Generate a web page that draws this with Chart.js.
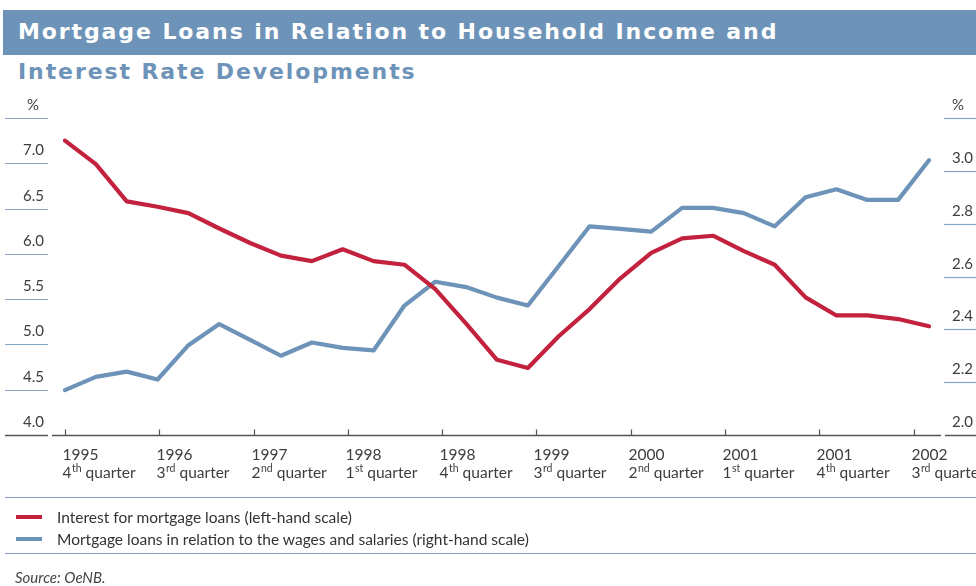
<!DOCTYPE html>
<html><head><meta charset="utf-8">
<script src="https://cdn.jsdelivr.net/npm/chart.js@4.4.1/dist/chart.umd.min.js"></script>
<style>
html,body{margin:0;padding:0;background:#fff;}
body{width:976px;height:586px;overflow:hidden;position:relative;font-family:Lato,'Open Sans',sans-serif;}
#band{position:absolute;left:3px;top:10px;width:973px;height:45px;background:#6d93b8;}
.t{position:absolute;left:18px;font-family:'DejaVu Sans',sans-serif;font-weight:bold;font-size:22px;line-height:22px;letter-spacing:1.9px;white-space:nowrap;}
#t1{top:21px;color:#fff;}
#t2{top:61px;color:#6d93b8;}
canvas{position:absolute;left:0;top:0;}
.rule{position:absolute;left:5px;width:971px;height:1px;background:#7f9fc2;}
.sw{position:absolute;left:16px;width:26px;height:4px;}
.lg{position:absolute;left:57px;font-size:15.5px;line-height:18px;color:#333;white-space:nowrap;}
#src{position:absolute;left:15px;top:569px;font-size:15px;line-height:16px;font-style:italic;color:#444;}
</style></head>
<body>
<div id="band"></div>
<div class="t" id="t1">Mortgage Loans in Relation to Household Income and</div>
<div class="t" id="t2">Interest Rate Developments</div>
<canvas id="c" width="976" height="586"></canvas>
<div class="rule" style="top:497px"></div>
<div class="sw" style="top:515px;background:#c3223f"></div>
<div class="lg" style="top:508px">Interest for mortgage loans (left-hand scale)</div>
<div class="sw" style="top:537px;background:#6d93b8"></div>
<div class="lg" style="top:530px">Mortgage loans in relation to the wages and salaries (right-hand scale)</div>
<div class="rule" style="top:553px"></div>
<div id="src">Source: OeNB.</div>
<script>
// Categories (quarters)
const categories = [
 "1995 Q4","1996 Q1","1996 Q2","1996 Q3","1996 Q4","1997 Q1","1997 Q2","1997 Q3","1997 Q4",
 "1998 Q1","1998 Q2","1998 Q3","1998 Q4","1999 Q1","1999 Q2","1999 Q3","1999 Q4",
 "2000 Q1","2000 Q2","2000 Q3","2000 Q4","2001 Q1","2001 Q2","2001 Q3","2001 Q4",
 "2002 Q1","2002 Q2","2002 Q3","2002 Q4"];
// Interest for mortgage loans, % (left-hand scale)
const interestRate = [7.25,6.99,6.58,6.52,6.45,6.28,6.12,5.98,5.92,6.05,5.92,5.88,5.61,5.23,4.83,
 4.74,5.09,5.39,5.73,6.01,6.17,6.20,6.03,5.88,5.52,5.32,5.32,5.28,5.20];
// Mortgage loans in relation to wages and salaries, % (right-hand scale)
const loansToWages = [2.17,2.22,2.24,2.21,2.34,2.42,2.36,2.30,2.35,2.33,2.32,2.49,2.58,2.56,2.52,
 2.49,2.64,2.79,2.78,2.77,2.86,2.86,2.84,2.79,2.90,2.93,2.89,2.89,3.04];
// Axis tick labels
const leftTicks = [4.0,4.5,5.0,5.5,6.0,6.5,7.0];
const rightTicks = [2.0,2.2,2.4,2.6,2.8,3.0];
const leftMax = 7.5, rightMax = 3.2;
const tickYears = ["1995","1996","1997","1998","1998","1999","2000","2001","2001","2002"];
const tickQuarterNum = ["4","3","2","1","4","3","2","1","4","3"];
const tickQuarterSup = ["th","rd","nd","st","th","rd","nd","st","th","rd"];

const FONT = "Lato, 'Open Sans', sans-serif";
const tickSpacing = 3.0556; // category steps between labelled ticks (as in the original)

const axesPlugin = {
  id: 'customAxes',
  beforeDatasetsDraw(chart) {
    const ctx = chart.ctx, yL = chart.scales.yL, yR = chart.scales.yR, x = chart.scales.x;
    ctx.save();
    const seg = (x1,y1,x2,y2)=>{ctx.beginPath();ctx.moveTo(x1,y1);ctx.lineTo(x2,y2);ctx.stroke();};
    ctx.font = "15px " + FONT; ctx.fillStyle = '#3d3d3d'; ctx.textBaseline = 'alphabetic';
    // left
    ctx.strokeStyle = '#86a6c6'; ctx.lineWidth = 1.2;
    leftTicks.concat([leftMax]).forEach(v=>{
      const py = Math.round(yL.getPixelForValue(v)) + 0.5;
      if (v > leftTicks[0]) seg(5,py,48,py);
      ctx.textAlign = 'right';
      if (v === leftMax) ctx.fillText('%', 39, py - 9);
      else ctx.fillText(v.toFixed(1), 44, py - 9);
    });
    // right
    rightTicks.concat([rightMax]).forEach(v=>{
      const py = Math.round(yR.getPixelForValue(v)) + 0.5;
      if (v > rightTicks[0]) seg(944,py,976,py);
      ctx.textAlign = 'left';
      ctx.fillText(v === rightMax ? '%' : v.toFixed(1), 952, py - 9);
    });
    // x axis
    const by = Math.round(yL.getPixelForValue(leftTicks[0])) + 0.5;
    ctx.strokeStyle = '#555'; ctx.lineWidth = 1.5;
    seg(5,by,48,by); seg(52,by,941,by); seg(945,by,976,by);
    ctx.lineWidth = 1.2;
    tickYears.forEach((yr,k)=>{
      const px = Math.round(x.getPixelForValue(k*tickSpacing)) + 0.5;
      seg(px, by-6, px, by);
      const lx = px - 3;
      ctx.textAlign = 'left'; ctx.fillStyle = '#3d3d3d';
      ctx.font = "15.5px " + FONT;
      ctx.fillText(yr, lx, by + 24.5);
      const qy = by + 42;
      ctx.fillText(tickQuarterNum[k], lx, qy);
      let w = ctx.measureText(tickQuarterNum[k]).width;
      ctx.font = "10.5px " + FONT;
      ctx.fillText(tickQuarterSup[k], lx + w + 0.5, qy - 6);
      w += ctx.measureText(tickQuarterSup[k]).width + 4.5;
      ctx.font = "15.5px " + FONT;
      ctx.fillText('quarter', lx + w, qy);
    });
    ctx.restore();
  }
};

new Chart(document.getElementById('c'), {
  type: 'line',
  data: {
    labels: categories,
    datasets: [
      {label:'Interest for mortgage loans (left-hand scale)', data: interestRate, yAxisID:'yL',
       borderColor:'#c3223f', borderWidth:4.2, pointRadius:0, tension:0, fill:false, borderJoinStyle:'round', borderCapStyle:'round'},
      {label:'Mortgage loans in relation to the wages and salaries (right-hand scale)', data: loansToWages, yAxisID:'yR',
       borderColor:'#6d93b8', borderWidth:4.2, pointRadius:0, tension:0, fill:false, borderJoinStyle:'round', borderCapStyle:'round'}
    ]
  },
  options: {
    responsive:false, animation:false, devicePixelRatio:1,
    layout:{padding:{left:65,right:47,top:118,bottom:151}},
    plugins:{legend:{display:false},tooltip:{enabled:false},title:{display:false}},
    scales:{
      x:{display:false, offset:false},
      yL:{display:false, position:'left', min:4.0, max:leftMax},
      yR:{display:false, position:'right', min:2.0, max:rightMax}
    }
  },
  plugins:[axesPlugin]
});
</script>
</body></html>
